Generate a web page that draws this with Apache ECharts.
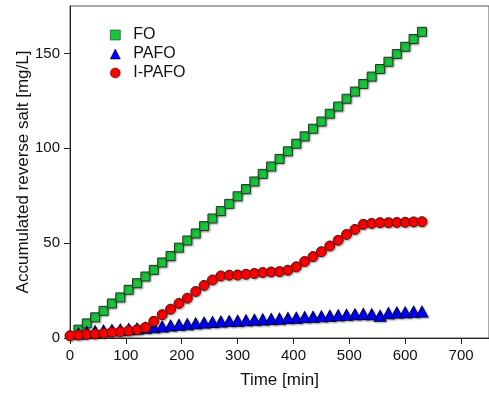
<!DOCTYPE html>
<html>
<head>
<meta charset="utf-8">
<script src="https://cdn.jsdelivr.net/npm/echarts@6/dist/echarts.min.js"></script>
<style>
  html, body { margin: 0; padding: 0; background: #fff; }
  #chart { width: 489px; height: 394px; }
</style>
</head>
<body>
<div id="chart"></div>
<script>
// time [min]
const timeFO = [15, 30, 45, 60, 75, 90, 105, 120, 135, 150, 165, 180, 195, 210, 225, 240, 255, 270, 285, 300, 315,
  330, 345, 360, 375, 390, 405, 420, 435, 450, 465, 480, 495, 510, 525, 540, 555, 570, 585, 600, 615, 630]
const foSalt = [4.4, 7.7, 10.9, 14.3, 18.2, 21.4, 25.4, 28.9, 32.4, 35.9, 39.8, 43.2, 47.6, 51.4, 55.1, 59.0, 63.0, 66.9, 70.7, 74.7, 78.5,
  82.5, 86.5, 90.4, 94.4, 98.4, 102.4, 106.3, 110.3, 114.1, 118.2, 122.0, 126.1, 129.9, 133.9, 137.8, 141.8, 145.6, 149.7, 153.5, 157.6, 161.4]

const timePAFO = timeFO
const pafoSalt = [2.4, 3.2, 3.6, 3.9, 4.2, 4.4, 4.7, 5.0, 5.4, 5.7, 6.0, 6.6, 7.0, 7.3, 7.7, 8.1, 8.4, 8.7, 8.9, 9.1, 9.3,
  9.6, 9.8, 10.0, 10.2, 10.5, 10.7, 11.0, 11.2, 11.4, 11.7, 12.0, 12.2, 12.5, 12.7, 12.5, 11.7, 13.1, 13.4, 13.5, 13.8, 13.9]

const timeIPAFO = [0, 15, 30, 45, 60, 75, 90, 105, 120, 135, 150, 165, 180, 195, 210, 225, 240, 255, 270, 285, 300, 315,
  330, 345, 360, 375, 390, 405, 420, 435, 450, 465, 480, 495, 510, 525, 540, 555, 570, 585, 600, 615, 630]
const ipafoSalt = [1.2, 1.6, 1.9, 2.1, 2.5, 3.0, 3.3, 3.8, 4.4, 5.6, 8.8, 12.3, 15.2, 18.2, 21.0, 24.5, 27.7, 30.6, 32.7, 33.1, 33.2, 33.6,
  34.0, 34.5, 34.8, 35.0, 35.7, 37.5, 40.3, 42.9, 45.5, 48.5, 51.5, 54.6, 57.2, 59.9, 60.4, 60.8, 60.8, 60.9, 61.0, 61.2, 61.3]

const xTicks = [0, 100, 200, 300, 400, 500, 600, 700]
const yTicks = [0, 50, 100, 150]

const pairs = (xs, ys) => xs.map((x, i) => [x, ys[i]])

const chart = echarts.init(document.getElementById('chart'))
const font = "'Liberation Sans', Arial, sans-serif"
const shadow = {
  shadowColor: 'rgba(0,0,0,0.3)',
  shadowBlur: 2,
  shadowOffsetX: 1,
  shadowOffsetY: 1
}

chart.setOption({
  animation: false,
  textStyle: { fontFamily: font },
  grid: {
    left: 70,
    right: -3,
    top: 6,
    bottom: 55,
    show: true,
    borderColor: '#555',
    borderWidth: 1
  },
  legend: {
    orient: 'vertical',
    left: 105,
    top: 22,
    itemWidth: 10,
    itemHeight: 10,
    itemGap: 3,
    textStyle: { fontSize: 16, color: '#111', fontFamily: font, padding: [0, 0, 0, 8] },
    data: [
      { name: 'FO', icon: 'rect', itemStyle: { borderWidth: 0.6 } },
      { name: 'PAFO', icon: 'triangle', itemStyle: { borderWidth: 0.6 } },
      { name: 'I-PAFO', icon: 'circle', itemStyle: { borderWidth: 0.6 } }
    ]
  },
  xAxis: {
    type: 'value',
    min: 0,
    max: 750,
    interval: 100,
    name: 'Time [min]',
    nameLocation: 'middle',
    nameGap: 34,
    nameTextStyle: { fontSize: 17, color: '#111' },
    splitLine: { show: false },
    axisLine: { lineStyle: { color: '#222', width: 1 } },
    axisTick: { inside: false, length: 6, customValues: xTicks, lineStyle: { color: '#222' } },
    axisLabel: { fontSize: 15, color: '#111', margin: 10, customValues: xTicks }
  },
  yAxis: {
    type: 'value',
    min: 0,
    max: 175,
    interval: 50,
    name: 'Accumulated reverse salt [mg/L]',
    nameLocation: 'middle',
    nameGap: 38,
    nameMoveOverlap: false,
    nameTextStyle: { fontSize: 17, color: '#111' },
    splitLine: { show: false },
    axisLine: { show: true, lineStyle: { color: '#222', width: 1 } },
    axisTick: { show: true, inside: false, length: 6, customValues: yTicks, lineStyle: { color: '#222' } },
    axisLabel: { fontSize: 15, color: '#111', margin: 10, customValues: yTicks }
  },
  series: [
    {
      name: 'FO',
      type: 'scatter',
      symbol: 'rect',
      symbolSize: 9,
      itemStyle: Object.assign({ color: '#19c53c', borderColor: '#1b3a22', borderWidth: 1, opacity: 1 }, shadow),
      data: pairs(timeFO, foSalt)
    },
    {
      name: 'PAFO',
      type: 'scatter',
      symbol: 'triangle',
      symbolSize: [12, 11],
      itemStyle: Object.assign({ color: '#0000ff', borderColor: '#000050', borderWidth: 1, opacity: 1 }, shadow),
      data: pairs(timePAFO, pafoSalt)
    },
    {
      name: 'I-PAFO',
      type: 'scatter',
      symbol: 'circle',
      symbolSize: 10,
      itemStyle: Object.assign({ color: '#ff0000', borderColor: '#5a1010', borderWidth: 1, opacity: 1 }, shadow),
      data: pairs(timeIPAFO, ipafoSalt)
    }
  ]
})
</script>
</body>
</html>
